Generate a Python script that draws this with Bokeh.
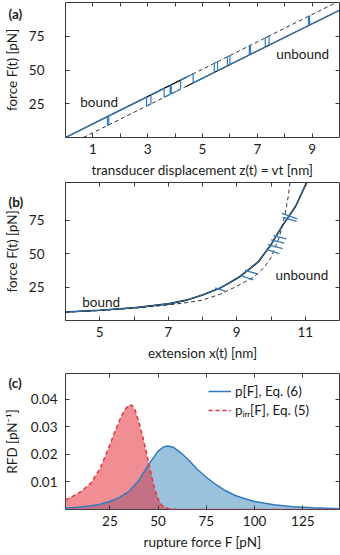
import numpy as np
from bokeh.plotting import figure
from bokeh.layouts import column
from bokeh.models import Range1d, FixedTicker, LinearAxis, Label, Legend, LegendItem, Title
from bokeh.embed import file_html
from bokeh.resources import INLINE

FONT = "Lato"
FS = "13.5px"
BLUE = "#2f7bbf"
RED = "#e6323c"
FRAME = "#3a3a3a"

# ---------------- Panel (a): force vs transducer displacement ----------------
bound_line_z = [0.0, 9.88]
bound_line_F = [0.0, 100.0]
unbound_line_z = [0.65, 10.0]
unbound_line_F = [0.0, 94.3]
branch_switch_z = 4.4
transition_z = [1.53, 1.58, 2.96, 3.12, 3.60, 3.82, 3.86, 4.20, 4.66, 5.43,
                5.55, 5.91, 6.00, 6.71, 6.75, 7.29, 7.43, 8.87, 8.91]
a_xticks = [1, 3, 5, 7, 9]
a_xminor = [2, 4, 6, 8]
a_yticks = [25, 50, 75]

# ---------------- Panel (b): force vs extension ----------------
b_solid_x = [4.0, 5.0, 6.0, 7.0, 7.5, 8.0, 8.5, 9.09, 9.62, 10.0, 10.34, 10.72, 11.06]
b_solid_F = [6.3, 7.6, 9.5, 12.4, 15.0, 19.0, 24.0, 32.7, 43.5, 56.6, 71.0, 85.3, 104.0]
b_dash_x = [4.0, 5.0, 6.0, 7.0, 7.5, 8.0, 8.5, 9.0, 9.5, 9.8, 10.0, 10.24, 10.4, 10.5, 10.56]
b_dash_F = [6.2, 7.4, 9.1, 11.6, 13.2, 15.2, 19.5, 25.5, 32.5, 39.5, 47.0, 62.0, 78.0, 92.0, 104.0]
jump_x0 = [8.37, 9.09, 9.24, 9.86, 9.91, 10.00, 10.07, 10.32, 10.34]
jump_F0 = [24.3, 33.9, 37.5, 53.0, 56.6, 60.2, 63.4, 79.9, 77.0]
jump_x1 = [8.66, 9.48, 9.62, 10.24, 10.34, 10.39, 10.45, 10.77, 10.75]
jump_F1 = [21.9, 30.3, 34.6, 49.9, 53.7, 57.8, 60.9, 75.8, 73.9]
b_xticks = [5, 7, 9, 11]
b_xminor = [4, 6, 8, 10]
b_yticks = [25, 50, 75]

# ---------------- Panel (c): rupture force distributions ----------------
p_F = [2, 10, 15, 20, 25, 30, 35, 40, 45, 50, 53, 55, 58, 62, 66, 70, 75, 80,
       85, 90, 95, 100, 110, 120, 130, 144]
p_val = [0.0005, 0.0009, 0.0013, 0.0019, 0.0029, 0.0044, 0.0066, 0.0105, 0.0163,
         0.0212, 0.0228, 0.0231, 0.0226, 0.0205, 0.0178, 0.0148, 0.0117, 0.0090,
         0.0068, 0.0051, 0.0039, 0.0029, 0.0017, 0.0010, 0.0006, 0.0003]
pirr_F = [2, 5, 10, 15, 20, 25, 28, 31, 33, 35, 36.5, 38, 40, 42, 44, 46, 48, 50,
          52, 55, 60, 144]
pirr_val = [0.0035, 0.0045, 0.0065, 0.0095, 0.0150, 0.0235, 0.0290, 0.0340, 0.0365,
            0.0380, 0.0378, 0.0362, 0.0318, 0.0265, 0.0205, 0.0140, 0.0080, 0.0038,
            0.0014, 0.0004, 0.0, 0.0]
c_xticks = [25, 50, 75, 100, 125]
c_yticks = [0.01, 0.02, 0.03, 0.04]


def make_fig(h, top, bottom, xr, yr):
    p = figure(width=340, height=h, x_range=Range1d(*xr), y_range=Range1d(*yr),
               output_backend="svg", toolbar_location=None,
               min_border_left=63, min_border_right=1,
               min_border_top=top, min_border_bottom=bottom)
    p.grid.visible = False
    p.outline_line_color = FRAME
    p.outline_line_width = 1
    return p


def style_axis(ax, ticks, minor, labels=True):
    ax.ticker = FixedTicker(ticks=ticks, minor_ticks=minor)
    ax.axis_line_color = None
    ax.major_tick_in = 4
    ax.major_tick_out = 0
    ax.minor_tick_in = 4
    ax.minor_tick_out = 0
    ax.major_tick_line_color = FRAME
    ax.minor_tick_line_color = FRAME
    ax.major_label_text_font = FONT
    ax.axis_label_text_font = FONT
    ax.axis_label_text_font_style = "normal"
    ax.axis_label_text_color = "#1a1a1a"
    ax.axis_label_text_font_size = FS
    if labels:
        ax.major_label_text_font_size = FS
        ax.major_label_text_color = "#1a1a1a"
    else:
        ax.major_label_text_font_size = "0px"
        ax.major_label_text_color = None
        ax.major_label_standoff = 0


def decorate(p, xt, xm, yt, ym, xlabel, ylabel, ystand, ytitle_stand):
    style_axis(p.xaxis[0], xt, xm)
    style_axis(p.yaxis[0], yt, ym)
    p.xaxis[0].axis_label = xlabel
    p.yaxis[0].axis_label = ylabel
    p.xaxis[0].major_label_standoff = 6
    p.xaxis[0].axis_label_standoff = 5
    p.yaxis[0].major_label_standoff = ystand
    p.yaxis[0].axis_label_standoff = ytitle_stand
    top = LinearAxis()
    style_axis(top, xt, xm, labels=False)
    p.add_layout(top, "above")
    right = LinearAxis()
    style_axis(right, yt, ym, labels=False)
    p.add_layout(right, "right")


def panel_label(p, txt, standoff):
    t = Title(text=txt, align="left", offset=-57, standoff=standoff,
              text_font=FONT, text_font_size=FS, text_font_style="bold",
              text_color="#1a1a1a")
    p.add_layout(t, "above")


def text_label(p, x, y, txt):
    p.add_layout(Label(x=x, y=y, text=txt, text_font=FONT, text_font_size=FS,
                       text_color="#1a1a1a", text_baseline="middle"))


# ---- (a)
pa = make_fig(180, 2, 41, (0, 10), (0, 100))
decorate(pa, a_xticks, a_xminor, a_yticks, [], "transducer displacement z(t) = vt [nm]",
         "force F(t) [pN]", 21, 6)

bz = np.array(bound_line_z); bF = np.array(bound_line_F)
uz = np.array(unbound_line_z); uF = np.array(unbound_line_F)


def Fb(z):
    return np.interp(z, bz, bF)


def Fu(z):
    return np.interp(z, uz, uF)


pa.line([0, branch_switch_z], [Fb(0), Fb(branch_switch_z)], color="black", line_width=1.2)
pa.line([branch_switch_z, uz[-1]], [Fu(branch_switch_z), uF[-1]], color="black", line_width=1.2)
pa.line([uz[0], branch_switch_z], [uF[0], Fu(branch_switch_z)], color="#333333",
        line_width=1, line_dash="4 3")
pa.line([branch_switch_z, bz[-1]], [Fb(branch_switch_z), bF[-1]], color="#333333",
        line_width=1, line_dash="4 3")

edges = [0.0] + transition_z + [10.0]
tz, tF = [], []
state_bound = True
for za, zb in zip(edges[:-1], edges[1:]):
    f = Fb if state_bound else Fu
    tz += [za, zb]
    tF += [float(f(za)), float(f(zb))]
    state_bound = not state_bound
pa.line(tz, tF, color=BLUE, line_width=1.2)

text_label(pa, 0.54, 26.5, "bound")
text_label(pa, 7.69, 61.5, "unbound")
panel_label(pa, "(a)", -38)

# ---- (b)
pb = make_fig(183, 2, 38, (4, 12), (0, 103))
decorate(pb, b_xticks, b_xminor, b_yticks, [], "extension x(t) [nm]", "force F(t) [pN]", 21, 6)
pb.line(b_dash_x, b_dash_F, color="#333333", line_width=1, line_dash="4 3")
pb.line(b_solid_x, b_solid_F, color="black", line_width=1.6)
pb.line(b_solid_x, b_solid_F, color=BLUE, line_width=1.0)
pb.segment(jump_x0, jump_F0, jump_x1, jump_F1, color=BLUE, line_width=1.3)
text_label(pb, 4.49, 13.8, "bound")
text_label(pb, 10.13, 34.0, "unbound")
panel_label(pb, "(b)", -54)

# ---- (c)
pc = make_fig(192, 10, 46, (2, 144), (0, 0.0494))
decorate(pc, c_xticks, [], c_yticks, [], "rupture force F [pN]", "RFD [pN⁻¹]", 8, 8)
pc.varea(x=p_F, y1=0, y2=p_val, fill_color="#1f77b4", fill_alpha=0.45)
pc.varea(x=pirr_F, y1=0, y2=pirr_val, fill_color=RED, fill_alpha=0.55)
lb = pc.line(p_F, p_val, color=BLUE, line_width=1.5)
lr = pc.line(pirr_F, pirr_val, color=RED, line_width=1.5, line_dash="4 3")
leg = Legend(items=[LegendItem(label="p[F], Eq. (6)", renderers=[lb]),
                    LegendItem(label="pᵢᵣᵣ[F], Eq. (5)", renderers=[lr])],
             location=(143, 90))
leg.border_line_color = None
leg.background_fill_alpha = 0
leg.label_text_font = FONT
leg.label_text_font_size = FS
leg.label_text_color = "#1a1a1a"
leg.glyph_width = 23
leg.glyph_height = 18
leg.label_height = 18
leg.spacing = 1
leg.margin = 0
leg.padding = 6
leg.label_standoff = 4
pc.add_layout(leg)
panel_label(pc, "(c)", -34)

layout = column(pa, pb, pc, spacing=0)
html = file_html(layout, INLINE)
html = html.replace("<head>", "<head><style>html,body{margin:0 !important;padding:0 !important;}</style>", 1)
open("out.html", "w").write(html)
